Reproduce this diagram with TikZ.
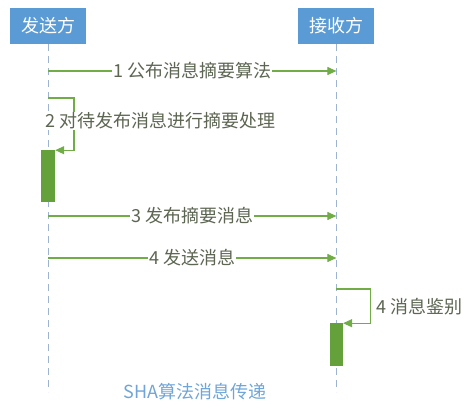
\documentclass[tikz,border=0pt]{standalone}
\usepackage{fontspec}
\setmainfont{Noto Sans CJK SC}
\usetikzlibrary{arrows.meta, positioning}

\definecolor{roleblue}{HTML}{5B9BD5}
\definecolor{lifeblue}{HTML}{9DB3D1}
\definecolor{msggreen}{HTML}{70AD47}
\definecolor{actgreen}{HTML}{64A13A}
\definecolor{lblgray}{HTML}{5C6652}
\definecolor{captionblue}{HTML}{6FA5D8}

\begin{document}
\begin{tikzpicture}[x=1pt, y=-1pt, >={Triangle[length=9pt, width=8pt]}]
        % 定义样式
        \tikzstyle{role} = [fill=roleblue, text=white, minimum width=76pt, minimum height=36pt, inner sep=0pt, font=\fontsize{18}{21}\selectfont]
        \tikzstyle{life} = [draw=lifeblue, line width=0.9pt, dash pattern=on 7pt off 5pt]
        \tikzstyle{msg} = [draw=msggreen, line width=1.1pt]
        \tikzstyle{lbl} = [fill=white, text=lblgray, inner sep=1pt, font=\fontsize{18}{21}\selectfont]
        \tikzstyle{act} = [fill=actgreen, inner sep=0pt, minimum width=14pt]

        \useasboundingbox (0,0) rectangle (474,410);

        % 参与方
        \node[role] (send) at (48,26) {发送方};
        \node[role, right=212pt of send] (recv) {接收方};

        % 生命线
        \coordinate[below=348pt of send.south] (sendend);
        \coordinate[below=348pt of recv.south] (recvend);
        \draw[life] (send.south) -- (sendend);
        \draw[life] (recv.south) -- (recvend);

        % 消息端点
        \coordinate (s1) at (send.south |- 0,71);
        \coordinate (r1) at (recv.south |- 0,71);
        \coordinate (s3) at (send.south |- 0,216);
        \coordinate (r3) at (recv.south |- 0,216);
        \coordinate (s4) at (send.south |- 0,258);
        \coordinate (r4) at (recv.south |- 0,258);
        \coordinate (loop1) at (send.south |- 0,98);
        \coordinate (loop2) at (recv.south |- 0,289);

        % 激活条
        \node[act, minimum height=52pt, below=106pt of send.south] (act1) {};
        \node[act, minimum width=13pt, minimum height=43pt, below=279pt of recv.south] (act2) {};

        % 消息
        \draw[msg, ->] (s1) -- node[lbl] (m1) {1 公布消息摘要算法} (r1);
        \draw[msg, ->] (loop1) -- ++(26,0) |- (act1.north east);
        \node[lbl, anchor=west] (m2) at (44,121) {2 对待发布消息进行摘要处理};
        \draw[msg, ->] (s3) -- node[lbl] (m3) {3 发布摘要消息} (r3);
        \draw[msg, ->] (s4) -- node[lbl] (m4) {4 发送消息} (r4);
        \draw[msg, ->] (loop2) -- ++(34,0) |- (act2.north east);
        \node[lbl, anchor=west, right=4pt of act2.north east, yshift=17pt, xshift=28pt] (m5) {4 消息鉴别};

        % 标题
        \node[text=captionblue, font=\fontsize{18}{21}\selectfont] (title) at (195,392) {SHA算法消息传递};
    \end{tikzpicture}
\end{document}
